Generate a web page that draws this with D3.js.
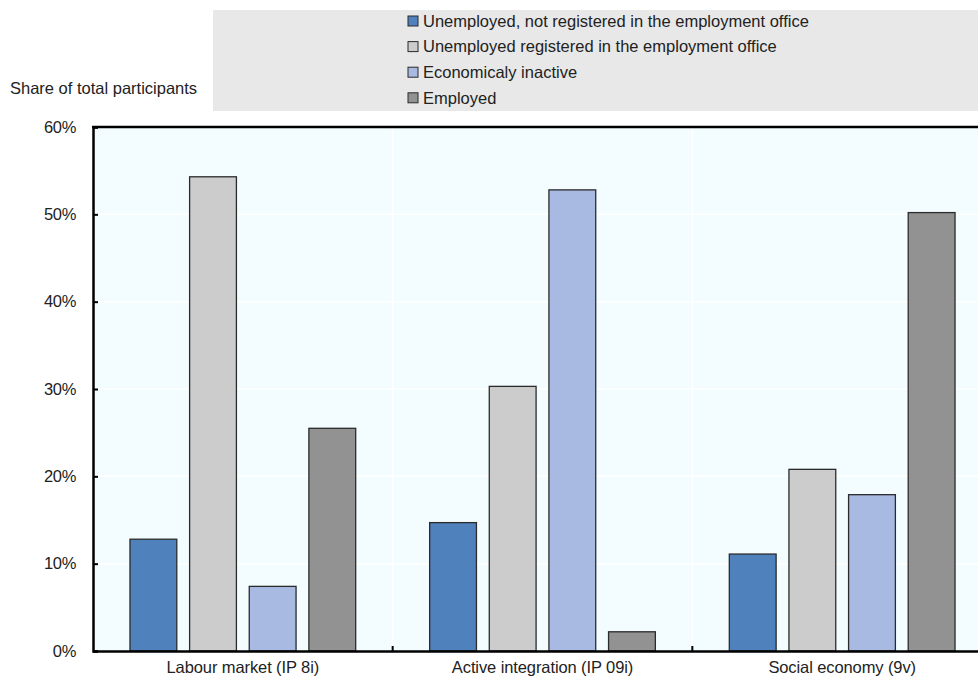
<!DOCTYPE html>
<html>
<head>
<meta charset="utf-8">
<script src="https://cdn.jsdelivr.net/npm/d3@7"></script>
<style>
  html, body { margin: 0; padding: 0; background: #fff; }
  svg { display: block; font-family: "Liberation Sans", Arial, sans-serif; }
</style>
</head>
<body>
<svg id="chart" width="978" height="676"></svg>
<script>
// Programme groups along the x axis
const categories = ["Labour market (IP 8i)", "Active integration (IP 09i)", "Social economy (9v)"];

// Participant status series
const seriesNames = [
  "Unemployed, not registered in the employment office",
  "Unemployed registered in the employment office",
  "Economicaly inactive",
  "Employed"
];
const seriesColors = ["#4f81bd", "#cccccc", "#a8b9e2", "#929292"];

// Share of total participants (%), one array per series, in category order
const unemployedNotRegistered = [12.8, 14.7, 11.1];
const unemployedRegistered   = [54.3, 30.3, 20.8];
const inactive               = [7.4, 52.8, 17.9];
const employed               = [25.5, 2.2, 50.2];
const seriesValues = [unemployedNotRegistered, unemployedRegistered, inactive, employed];

const yTicks = [0, 10, 20, 30, 40, 50, 60];

const FONT = 16.5;
const svg = d3.select("#chart");
const margin = { left: 93, top: 127, bottom: 651, right: 992 };

const x0 = d3.scaleBand().domain(categories).range([margin.left, margin.right]).paddingInner(0).paddingOuter(0);
const x1 = d3.scaleBand().domain(d3.range(seriesNames.length)).range([0, x0.bandwidth()])
  .paddingInner(0.215).paddingOuter(0.62);
const y = d3.scaleLinear().domain([0, 60]).range([margin.bottom, margin.top]);

// Plot background
svg.append("rect")
  .attr("x", margin.left).attr("y", margin.top)
  .attr("width", margin.right - margin.left).attr("height", margin.bottom - margin.top)
  .attr("fill", "#f3fdff");

// White horizontal gridlines
svg.append("g").selectAll("line").data(yTicks.slice(1, -1)).join("line")
  .attr("x1", margin.left).attr("x2", margin.right)
  .attr("y1", d => y(d)).attr("y2", d => y(d))
  .attr("stroke", "#ffffff").attr("stroke-width", 1.5);

// White vertical separators between groups
svg.append("g").selectAll("line").data(categories.slice(1)).join("line")
  .attr("x1", d => x0(d)).attr("x2", d => x0(d))
  .attr("y1", margin.top).attr("y2", margin.bottom)
  .attr("stroke", "#ffffff").attr("stroke-width", 1.5);

// Bars
const groups = svg.append("g").selectAll("g").data(categories).join("g")
  .attr("transform", d => `translate(${x0(d)},0)`);
groups.selectAll("rect")
  .data((c, ci) => seriesValues.map((vals, si) => ({ si, v: vals[ci] })))
  .join("rect")
  .attr("x", d => x1(d.si))
  .attr("width", x1.bandwidth())
  .attr("y", d => y(d.v))
  .attr("height", d => y(0) - y(d.v))
  .attr("fill", d => seriesColors[d.si])
  .attr("stroke", "#2b2b2b").attr("stroke-width", 1.3);

// Top border
svg.append("line")
  .attr("x1", margin.left - 1).attr("x2", margin.right)
  .attr("y1", margin.top).attr("y2", margin.top)
  .attr("stroke", "#000").attr("stroke-width", 2.5);

// Y axis
const yAxis = svg.append("g")
  .attr("transform", `translate(${margin.left},0)`)
  .call(d3.axisLeft(y).tickValues(yTicks).tickSize(-5).tickPadding(17).tickFormat(d => d + "%"));
yAxis.select(".domain").attr("stroke", "#000").attr("stroke-width", 2.5);
yAxis.selectAll(".tick line").attr("stroke", "#000").attr("stroke-width", 2);
yAxis.selectAll(".tick text")
  .attr("font-size", FONT).attr("fill", "#222")
  .attr("font-family", "'Liberation Sans', Arial, sans-serif")
  .attr("letter-spacing", "-0.3px");

// X axis
const xAxis = svg.append("g")
  .attr("transform", `translate(0,${margin.bottom})`)
  .call(d3.axisBottom(x0).tickSize(0).tickPadding(10));
xAxis.select(".domain").attr("stroke", "#000").attr("stroke-width", 2.5);
xAxis.selectAll(".tick text")
  .attr("font-size", FONT).attr("fill", "#222")
  .attr("font-family", "'Liberation Sans', Arial, sans-serif")
  .attr("letter-spacing", "-0.1px");
// Small upward ticks between groups
svg.append("g").selectAll("line").data(categories.slice(1)).join("line")
  .attr("x1", d => x0(d)).attr("x2", d => x0(d))
  .attr("y1", margin.bottom).attr("y2", margin.bottom - 5)
  .attr("stroke", "#000").attr("stroke-width", 2);

// Y axis title
svg.append("text")
  .attr("x", 10).attr("y", 94)
  .attr("font-size", FONT).attr("fill", "#222")
  .text("Share of total participants");

// Legend
svg.append("rect")
  .attr("x", 213).attr("y", 10).attr("width", 780).attr("height", 101)
  .attr("fill", "#e8e8e8");
const legend = svg.append("g").selectAll("g").data(seriesNames).join("g")
  .attr("transform", (d, i) => `translate(408,${21 + i * 25.6})`);
legend.append("rect")
  .attr("x", 0).attr("y", -5).attr("width", 10).attr("height", 10)
  .attr("fill", (d, i) => seriesColors[i])
  .attr("stroke", "#2b2b2b").attr("stroke-width", 1);
legend.append("text")
  .attr("x", 15).attr("y", 0).attr("dy", "0.35em")
  .attr("font-size", FONT).attr("fill", "#222")
  .text(d => d);
</script>
</body>
</html>
